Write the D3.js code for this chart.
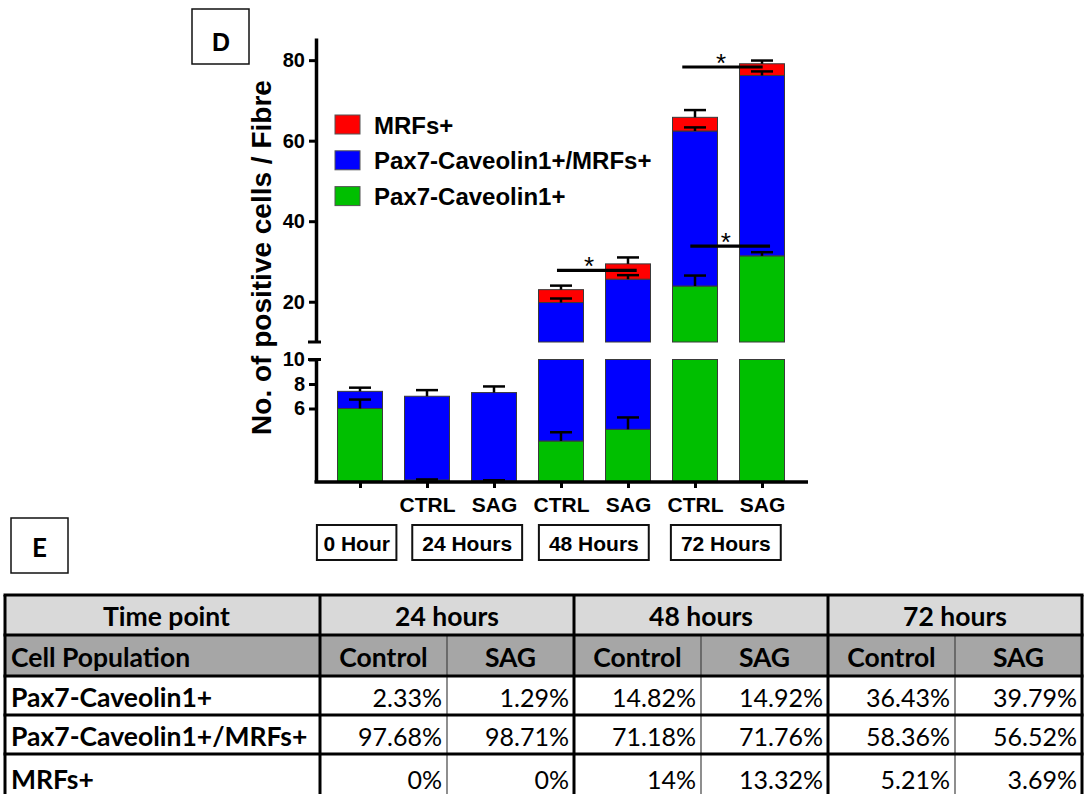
<!DOCTYPE html>
<html>
<head>
<meta charset="utf-8">
<script src="https://cdn.jsdelivr.net/npm/d3@7"></script>
<style>
body { margin: 0; background: #fff; }
svg { display: block; }
.chart text { font-family: "Liberation Sans", Arial, sans-serif; font-weight: bold; fill: #000; }
.tbl text { font-family: Lato, "Open Sans", sans-serif; fill: #000; }
</style>
</head>
<body>
<svg id="fig" width="1085" height="794"></svg>
<script>
// bar data (cells / fibre)
var categories = ["", "CTRL", "SAG", "CTRL", "SAG", "CTRL", "SAG"]
var greenVals = [6.0, 0.16, 0.09, 3.35, 4.3, 23.9, 31.4]
var blueVals = [1.4, 6.84, 7.21, 16.45, 21.3, 38.5, 44.8]
var redVals = [0, 0, 0, 3.2, 3.8, 3.4, 2.9]
var greenErr = [0.73, 0.05, 0.05, 0.71, 0.97, 2.6, 0.9]
var blueErr = [0.3, 0.5, 0.5, 1.0, 1.0, 0.9, 1.0]
var redErr = [0, 0, 0, 1.0, 1.6, 1.8, 0.8]

var seriesNames = ["MRFs+", "Pax7-Caveolin1+/MRFs+", "Pax7-Caveolin1+"]
var seriesColors = ["#ff0000", "#0000ff", "#00bf00"]

var groupLabels = ["0 Hour", "24 Hours", "48 Hours", "72 Hours"]
var groupAt = [-0.05, 1.6, 3.49, 5.46]   // label centre, in bar-index units

// significance lines (positions in bar-index units / axis values)
var sigFrom = [2.94, 4.81, 4.93]
var sigTo = [4.13, 6.01, 6.12]
var sigVal = [27.8, 78.3, 33.8]
var sigStar = [3.42, 5.39, 5.46]

// table E
var tableGroups = ["24 hours", "48 hours", "72 hours"]
var tableSubs = ["Control", "SAG"]
var rowLabels = ["Pax7-Caveolin1+", "Pax7-Caveolin1+/MRFs+", "MRFs+"]
var pax7Row = ["2.33%", "1.29%", "14.82%", "14.92%", "36.43%", "39.79%"]
var pax7MrfRow = ["97.68%", "98.71%", "71.18%", "71.76%", "58.36%", "56.52%"]
var mrfRow = ["0%", "0%", "14%", "13.32%", "5.21%", "3.69%"]

var svg = d3.select("#fig")
var chart = svg.append("g").attr("class", "chart")

var axisX = 316, baseY = 482
var x = d3.scalePoint().domain(d3.range(categories.length)).range([360, 762])
var xLin = d3.scaleLinear().domain([0, categories.length - 1]).range([360, 762])
var barW = 45
var yLow = d3.scaleLinear().domain([0, 10]).range([baseY, 359.5])
var yUp = d3.scaleLinear().domain([10, 85.5]).range([342, 38])

function yOf(v) { return v <= 10 ? yLow(v) : yUp(v) }

// draw a segment [v0, v1] across the broken axis
function segment(i, v0, v1, color) {
    var parts = [[Math.max(v0, 0), Math.min(v1, 10), yLow], [Math.max(v0, 10), Math.min(v1, 85.5), yUp]]
    parts.forEach(function(p) {
        if (p[1] <= p[0]) return
        chart.append("rect")
            .attr("x", x(i) - barW / 2)
            .attr("width", barW)
            .attr("y", p[2](p[1]))
            .attr("height", p[2](p[0]) - p[2](p[1]))
            .attr("fill", color)
            .attr("stroke", "#3a3a3a")
            .attr("stroke-width", 1)
    })
}

categories.forEach(function(c, i) {
    var g = greenVals[i], b = g + blueVals[i], r = b + redVals[i]
    segment(i, 0, g, seriesColors[2])
    segment(i, g, b, seriesColors[1])
    if (redVals[i] > 0) segment(i, b, r, seriesColors[0])
})

function errBar(i, top, err) {
    if (err <= 0) return
    var y0 = yOf(top), y1 = yOf(top + err)
    chart.append("line").attr("x1", x(i)).attr("x2", x(i)).attr("y1", y0).attr("y2", y1)
        .attr("stroke", "#000").attr("stroke-width", 2.5)
    chart.append("line").attr("x1", x(i) - 11).attr("x2", x(i) + 11).attr("y1", y1).attr("y2", y1)
        .attr("stroke", "#000").attr("stroke-width", 2.5)
}
categories.forEach(function(c, i) {
    var g = greenVals[i], b = g + blueVals[i], r = b + redVals[i]
    errBar(i, g, greenErr[i])
    errBar(i, b, blueErr[i])
    errBar(i, r, redErr[i])
})

// y axes (broken)
var upAxis = chart.append("g").attr("transform", "translate(" + axisX + ",0)")
    .call(d3.axisLeft(yUp).tickValues([20, 40, 60, 80]).tickSize(7).tickSizeOuter(0).tickPadding(4))
var lowAxis = chart.append("g").attr("transform", "translate(" + axisX + ",0)")
    .call(d3.axisLeft(yLow).tickValues([6, 8, 10]).tickSize(7).tickSizeOuter(0).tickPadding(4))
;[upAxis, lowAxis].forEach(function(a) {
    a.select(".domain").attr("stroke", "#000").attr("stroke-width", 3.5)
    a.selectAll(".tick line").attr("stroke", "#000").attr("stroke-width", 3)
    a.selectAll(".tick text").style("font-size", "20px")
})
;[yUp(10), yLow(10)].forEach(function(yy) {
    chart.append("line").attr("x1", axisX - 8).attr("x2", axisX + 5).attr("y1", yy).attr("y2", yy)
        .attr("stroke", "#000").attr("stroke-width", 3)
})

// x axis
var xAxis = chart.append("g").attr("transform", "translate(0," + baseY + ")")
    .call(d3.axisBottom(x).tickFormat(function(i) { return categories[i] }).tickSize(6).tickPadding(9))
xAxis.select(".domain").remove()
xAxis.selectAll(".tick line").attr("stroke", "#000").attr("stroke-width", 3)
xAxis.selectAll(".tick text").style("font-size", "21px")
chart.append("line").attr("x1", axisX - 1.5).attr("x2", 808).attr("y1", baseY).attr("y2", baseY)
    .attr("stroke", "#000").attr("stroke-width", 3.5)

// group boxes under the axis
groupLabels.forEach(function(lab, k) {
    var cx = xLin(groupAt[k])
    var box = chart.append("g")
    var r = box.append("rect")
    var t = box.append("text").attr("x", cx).attr("y", 551).attr("text-anchor", "middle")
        .style("font-size", "21px").text(lab)
    var w = t.node().getComputedTextLength() + (k == 0 ? 13 : 20)
    r.attr("x", cx - w / 2).attr("y", 525).attr("width", w).attr("height", 35)
        .attr("fill", "#fff").attr("stroke", "#111").attr("stroke-width", 2)
})

// significance
sigVal.forEach(function(v, k) {
    var yy = yOf(v)
    chart.append("line").attr("x1", xLin(sigFrom[k])).attr("x2", xLin(sigTo[k])).attr("y1", yy).attr("y2", yy)
        .attr("stroke", "#000").attr("stroke-width", 3.2)
    chart.append("text").attr("x", xLin(sigStar[k])).attr("y", yy + 5).attr("text-anchor", "middle")
        .style("font-size", "26px").style("font-weight", "normal").text("*")
})

// y title
chart.append("text").attr("transform", "translate(271,257.5) rotate(-90)").attr("text-anchor", "middle")
    .style("font-size", "28px").text("No. of positive cells / Fibre")

// legend
seriesNames.forEach(function(n, k) {
    var yy = 115 + k * 35.8
    chart.append("rect").attr("x", 335).attr("y", yy).attr("width", 25).attr("height", 19)
        .attr("fill", seriesColors[k]).attr("stroke", "#555").attr("stroke-width", 1)
    chart.append("text").attr("x", 374).attr("y", yy + 18.5).style("font-size", "24px").text(n)
})

// panel D label
chart.append("rect").attr("x", 192).attr("y", 9).attr("width", 57).attr("height", 55)
    .attr("fill", "#fff").attr("stroke", "#111").attr("stroke-width", 1.5)
chart.append("text").attr("x", 221).attr("y", 51).attr("text-anchor", "middle").style("font-size", "25px").text("D")

// ---- table E ----
var tbl = svg.append("g").attr("class", "tbl")
tbl.append("rect").attr("x", 11).attr("y", 518).attr("width", 57).attr("height", 55)
    .attr("fill", "#fff").attr("stroke", "#111").attr("stroke-width", 1.5)
tbl.append("text").attr("x", 39.5).attr("y", 557).attr("text-anchor", "middle")
    .style("font-size", "26px").style("font-weight", "bold").text("E")

var tx0 = 5, firstW = 315, subW = 127
var rowY = [595, 635, 676, 715, 754, 797]
var colX = [tx0, tx0 + firstW]
for (var c = 1; c <= 6; c++) colX.push(tx0 + firstW + c * subW)
var dataRows = [pax7Row, pax7MrfRow, mrfRow]

tbl.append("rect").attr("x", tx0).attr("y", rowY[0]).attr("width", colX[7] - tx0).attr("height", rowY[1] - rowY[0]).attr("fill", "#d9d9d9")
tbl.append("rect").attr("x", tx0).attr("y", rowY[1]).attr("width", colX[7] - tx0).attr("height", rowY[2] - rowY[1]).attr("fill", "#a6a6a6")

// thin dividers inside each time group
for (var c = 2; c <= 6; c += 2) {
    tbl.append("line").attr("x1", colX[c]).attr("x2", colX[c]).attr("y1", rowY[1]).attr("y2", rowY[5])
        .attr("stroke", "#444").attr("stroke-width", 1.2)
}
// thick horizontal rules
rowY.forEach(function(yy) {
    tbl.append("line").attr("x1", tx0 - 1.5).attr("x2", colX[7] + 1.5).attr("y1", yy).attr("y2", yy)
        .attr("stroke", "#000").attr("stroke-width", 3)
})
// thick verticals
;[0, 1, 3, 5, 7].forEach(function(c) {
    tbl.append("line").attr("x1", colX[c]).attr("x2", colX[c]).attr("y1", rowY[0]).attr("y2", rowY[5])
        .attr("stroke", "#000").attr("stroke-width", 3)
})

var fsB = "26.5px", fsV = "25px"
tbl.append("text").attr("x", (colX[0] + colX[1]) / 2 + 4).attr("y", rowY[1] - 9).attr("text-anchor", "middle")
    .style("font-size", fsB).style("font-weight", "bold").text("Time point")
tableGroups.forEach(function(gname, k) {
    tbl.append("text").attr("x", (colX[1 + 2 * k] + colX[3 + 2 * k]) / 2).attr("y", rowY[1] - 9)
        .attr("text-anchor", "middle").style("font-size", fsB).style("font-weight", "bold").text(gname)
})
tbl.append("text").attr("x", 11).attr("y", rowY[2] - 9).style("font-size", fsB).style("font-weight", "bold").text("Cell Population")
for (var c = 1; c <= 6; c++) {
    tbl.append("text").attr("x", (colX[c] + colX[c + 1]) / 2).attr("y", rowY[2] - 9).attr("text-anchor", "middle")
        .style("font-size", fsB).style("font-weight", "bold").text(tableSubs[(c - 1) % 2])
}
rowLabels.forEach(function(lab, r) {
    var by = rowY[r + 3] - 8
    tbl.append("text").attr("x", 11).attr("y", by).style("font-size", fsB).style("font-weight", "bold").text(lab)
    dataRows[r].forEach(function(v, c) {
        tbl.append("text").attr("x", colX[c + 2] - 5).attr("y", by).attr("text-anchor", "end")
            .style("font-size", fsV).text(v)
    })
})
</script>
</body>
</html>
